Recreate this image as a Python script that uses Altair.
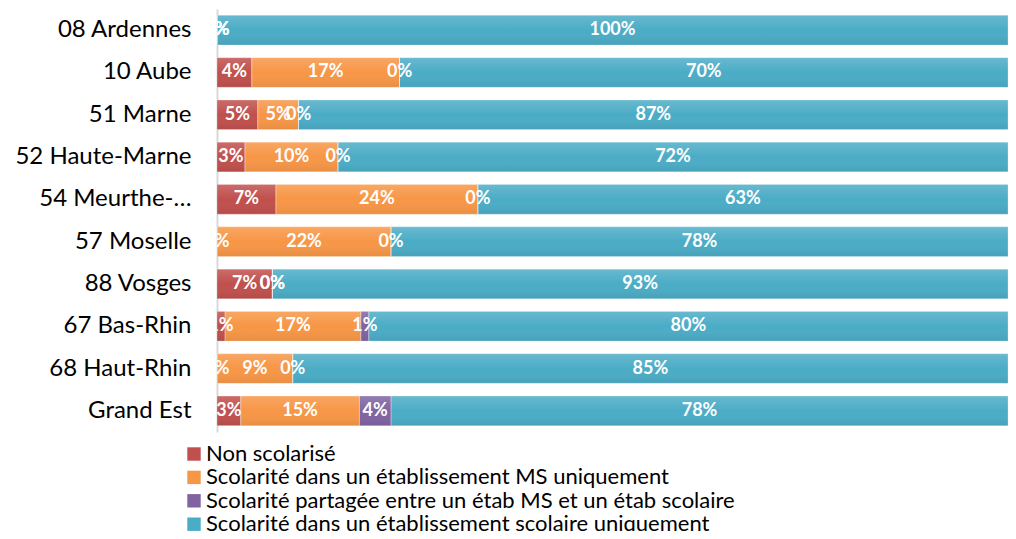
import altair as alt
import pandas as pd

categories = ["08 Ardennes", "10 Aube", "51 Marne", "52 Haute-Marne", "54 Meurthe-et-Moselle",
              "57 Moselle", "88 Vosges", "67 Bas-Rhin", "68 Haut-Rhin", "Grand Est"]
series = ["Non scolarisé",
          "Scolarité dans un établissement MS uniquement",
          "Scolarité partagée entre un étab MS et un étab scolaire",
          "Scolarité dans un établissement scolaire uniquement"]
non_scolarise = [0, 4, 5, 3, 7, 0, 7, 1, 0, 3]
ms_uniquement = [0, 17, 5, 10, 24, 22, 0, 17, 9, 15]
partagee = [0, 0, 0, 0, 0, 0, 0, 1, 0, 4]
scolaire_uniquement = [100, 70, 87, 72, 63, 78, 93, 80, 85, 78]
colors = ["#C0504D", "#F79646", "#8064A2", "#4BACC6"]

rows = []
for i, c in enumerate(categories):
    for k, vals in enumerate([non_scolarise, ms_uniquement, partagee, scolaire_uniquement]):
        rows.append({"cat": c, "serie": series[k], "ord": k, "v": vals[i]})
df = pd.DataFrame(rows)

FONT = "Lato"

base = alt.Chart(df).transform_stack(
    stack="v", groupby=["cat"], as_=["x0", "x1"], offset="normalize",
    sort=[alt.SortField("ord", order="ascending")]
).transform_calculate(
    mid="(datum.x0 + datum.x1) / 2",
    lab="datum.v + '%'"
)

yenc = alt.Y("cat:N", sort=categories, title=None,
             scale=alt.Scale(paddingInner=0.3, paddingOuter=0.15),
             axis=alt.Axis(labelFont=FONT, labelFontSize=24, labelColor="#000000",
                           labelPadding=26, labelLimit=260, ticks=False,
                           labelExpr="datum.label == '54 Meurthe-et-Moselle' ? '54 Meurthe-…' : datum.label",
                           domainColor="#d9d9d9", domainWidth=2))
xscale = alt.Scale(domain=[0, 1])

bars = base.mark_bar(stroke=None).encode(
    x=alt.X("x0:Q", scale=xscale, axis=None),
    x2="x1:Q",
    y=yenc,
    color=alt.Color("serie:N", sort=series,
                    scale=alt.Scale(domain=series, range=colors),
                    legend=alt.Legend(title=None, orient="none", legendX=-34, legendY=434,
                                      labelFont=FONT, labelFontSize=22, labelColor="#000000",
                                      symbolType="square", symbolSize=180, symbolStrokeWidth=0,
                                      symbolOpacity=1, rowPadding=1.4, labelLimit=800,
                                      labelOffset=1))
)

shade = base.mark_bar(
    fill=alt.Gradient(gradient="linear", x1=0, x2=0, y1=0, y2=1,
                      stops=[alt.GradientStop(color="rgba(255,255,255,0.16)", offset=0),
                             alt.GradientStop(color="rgba(255,255,255,0.0)", offset=0.5),
                             alt.GradientStop(color="rgba(0,0,0,0.07)", offset=1)]),
    stroke="rgba(255,255,255,0.25)", strokeWidth=1
).encode(
    x=alt.X("x0:Q", scale=xscale, axis=None),
    x2="x1:Q",
    y=alt.Y("cat:N", sort=categories)
)

labels = base.mark_text(font=FONT, fontSize=18, fontWeight="bold", color="white",
                        clip=True, align="center", baseline="middle").encode(
    x=alt.X("mid:Q", scale=xscale, axis=None),
    y=alt.Y("cat:N", sort=categories),
    text="lab:N"
)

chart = alt.layer(bars, shade, labels).properties(
    width=791, height=423,
    autosize=alt.AutoSizeParams(type="none"),
    padding={"left": 209, "top": 1, "right": 0, "bottom": 99}
).configure_view(stroke=None)

chart.save("out.html", embed_options={"renderer": "svg", "actions": False})
